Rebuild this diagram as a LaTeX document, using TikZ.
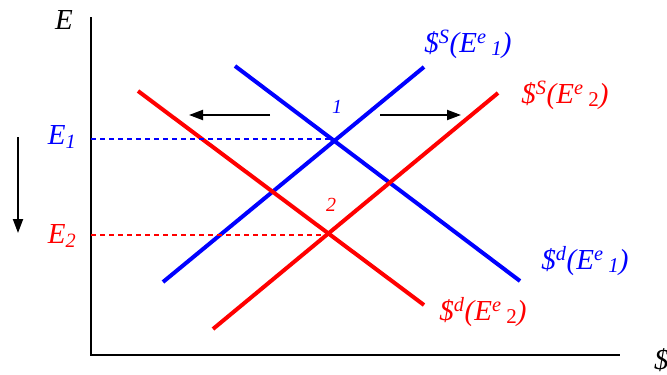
\documentclass[tikz,border=0pt]{standalone}
\usepackage{fontspec}
\setmainfont{Liberation Serif}
\usetikzlibrary{arrows.meta}
\begin{document}
\begin{tikzpicture}[x=1pt,y=-1pt,
  curve/.style={line width=4pt},
  guide/.style={line width=1.3pt,dash pattern=on 5pt off 4pt},
  movearrow/.style={line width=2pt,-{Triangle[length=14pt,width=10pt]}},
  lbl/.style={font=\fontsize{29}{32}\selectfont\itshape,inner sep=0pt},
  num/.style={font=\fontsize{20}{24}\selectfont\itshape,inner sep=0pt}]
\useasboundingbox (0,0) rectangle (667,375);
% axes
\coordinate (ytop) at (91,17);
\coordinate (orig) at (91,355);
\coordinate (xend) at (620,355);
\draw[line width=2pt] (ytop) -- (orig) -- (xend);
\node[lbl] (Elab) at (64,20) {E};
\node[lbl,anchor=west] (dlab) at (654,360) {\$};
% curves
\coordinate (bs1) at (163,282); \coordinate (bs2) at (424,67);
\coordinate (bd1) at (235,66);  \coordinate (bd2) at (520,281);
\coordinate (rs1) at (213,329); \coordinate (rs2) at (498,93);
\coordinate (rd1) at (138,91);  \coordinate (rd2) at (424,305);
\draw[curve,blue] (bs1) -- (bs2);
\draw[curve,blue] (bd1) -- (bd2);
\draw[curve,red] (rs1) -- (rs2);
\draw[curve,red] (rd1) -- (rd2);
% equilibria
\coordinate (eq1) at (335,139);
\coordinate (eq2) at (328,235);
\coordinate (ax1) at (91,139);
\coordinate (ax2) at (91,235);
\draw[guide,blue] (ax1) -- (eq1);
\draw[guide,red] (ax2) -- (eq2);
\node[lbl,blue] (E1) at (62,137) {E\textsubscript{1}};
\node[lbl,red] (E2) at (62,236) {E\textsubscript{2}};
\node[num,blue] (n1) at (337,107) {1};
\node[num,red] (n2) at (331,205) {2};
% arrows
\coordinate (da1) at (18,137); \coordinate (da2) at (18,233);
\draw[movearrow] (da1) -- (da2);
\coordinate (la1) at (270,115); \coordinate (la2) at (189,115);
\draw[movearrow] (la1) -- (la2);
\coordinate (ra1) at (380,115); \coordinate (ra2) at (461,115);
\draw[movearrow] (ra1) -- (ra2);
% curve labels
\node[lbl,blue] (sl1) at (468,44) {\$\textsuperscript{S}(E\textsuperscript{e}\,\raisebox{-0.12em}{\fontsize{21}{24}\selectfont 1})};
\node[lbl,red] (sl2) at (565,95) {\$\textsuperscript{S}(E\textsuperscript{e}\,\raisebox{-0.12em}{\fontsize{21}{24}\selectfont\upshape 2})};
\node[lbl,blue] (dl1) at (585,261) {\$\textsuperscript{d}(E\textsuperscript{e}\,\raisebox{-0.12em}{\fontsize{21}{24}\selectfont 1})};
\node[lbl,red] (dl2) at (483,312) {\$\textsuperscript{d}(E\textsuperscript{e}\,\raisebox{-0.12em}{\fontsize{21}{24}\selectfont\upshape 2})};
\end{tikzpicture}
\end{document}
